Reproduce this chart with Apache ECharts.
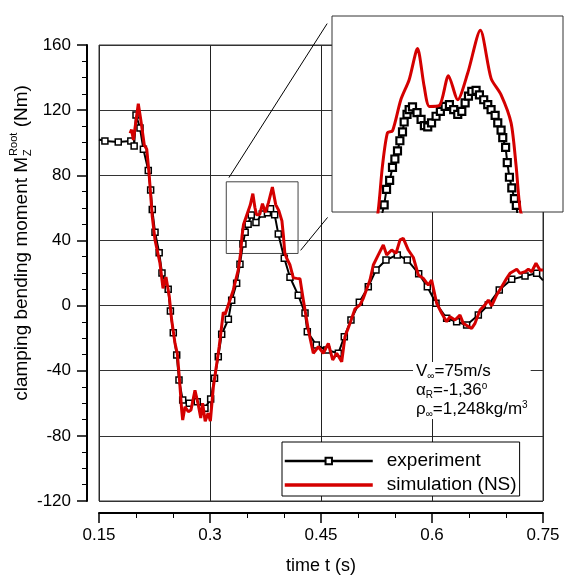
<!DOCTYPE html>
<html><head><meta charset="utf-8">
<script src="https://cdn.jsdelivr.net/npm/echarts@6/dist/echarts.min.js"></script>
<style>html,body{margin:0;padding:0;background:#fff}#c{width:564px;height:583px}</style>
</head><body><div id="c"></div>
<script>
const FONT = '"Liberation Sans", Arial, Helvetica, sans-serif';
const xMin = 0.15, xMax = 0.75, xStep = 0.15;
const yMin = -120, yMax = 160, yStep = 40;
const xTickLabels = ['0.15', '0.3', '0.45', '0.6', '0.75'];
const yTickLabels = ['-120', '-80', '-40', '0', '40', '80', '120', '160'];
const zoomX = [0.322, 0.419];
const zoomY = [32, 76];
const seriesNames = ['experiment', 'simulation (NS)'];

// experiment (main plot, one point per marker)
const expT = [0.150,0.158,0.176,0.193,0.1975,0.200,0.2054,0.210,0.2166,0.2198,0.222,0.2257,0.2313,0.2351,0.2435,0.2465,0.2504,0.255,0.2581,0.2631,0.272,0.2828,0.2932,0.3009,0.3061,0.3112,0.3158,0.3248,0.3293,0.336,0.3405,0.3445,0.3475,0.3515,0.3558,0.3621,0.3706,0.3776,0.3818,0.3874,0.3923,0.4004,0.4081,0.4193,0.4284,0.4315,0.4437,0.4576,0.4734,0.4815,0.4905,0.5018,0.5139,0.5243,0.5378,0.5531,0.5666,0.582,0.5937,0.6054,0.6198,0.6333,0.6468,0.6626,0.6761,0.6909,0.7077,0.7257,0.7414,0.750];
const expM = [102,101,100.5,101,98,117,109,96,83,71,59,45,32.5,20,10,-3.4,-16.7,-30.3,-45.7,-58,-60,-59,-63,-57.3,-44.7,-31.4,-17.6,-8.4,3.2,13.7,25.4,37.8,45,50,55.6,51,56.3,57,59.4,55.7,44,29.1,17.4,6.3,-4.6,-16,-24.2,-27.3,-29.3,-19.1,-8.9,2,11.6,21.8,28,31.1,28,19.6,11.6,1.4,-7.8,-9.9,-11.9,-5.8,0.4,9.6,16.1,18.2,19.8,15.5];

// experiment (zoom window, one point per marker)
const expZoomT = [0.3405,0.3439,0.3449,0.3462,0.3474,0.3484,0.3495,0.3505,0.3516,0.3523,0.3535,0.3544,0.3558,0.3577,0.3594,0.3608,0.3622,0.3638,0.3657,0.3675,0.3695,0.3713,0.3731,0.3748,0.3765,0.3779,0.3793,0.3807,0.3825,0.3839,0.3857,0.3874,0.3888,0.3905,0.3916,0.3930,0.3937,0.3949,0.3956,0.3965,0.3975,0.3986,0.3994,0.4004];
const expZoomM = [25.4,33.6,37.1,39.1,42.0,43.9,45.7,48.0,50.0,52.2,53.9,55.0,55.6,54.3,52.8,51.4,51.1,52.0,53.5,54.6,55.7,56.1,55.0,53.9,54.6,56.5,58.0,59.1,59.3,58.3,57.2,56.1,55.0,53.7,52.0,50.4,48.7,46.5,43.1,39.8,37.4,35.0,33.5,29.1];

// simulation (NS)
const simT = [0.192,0.194,0.1965,0.2031,0.2065,0.2112,0.2145,0.2176,0.222,0.2257,0.2324,0.2365,0.2405,0.245,0.2482,0.2527,0.2558,0.2585,0.2617,0.2631,0.2662,0.2707,0.2743,0.2797,0.2842,0.2875,0.290,0.2935,0.2975,0.3005,0.3045,0.309,0.3125,0.318,0.3203,0.327,0.3315,0.3382,0.3414,0.3432,0.3453,0.3474,0.3509,0.3544,0.3579,0.3607,0.3629,0.3671,0.3709,0.3748,0.379,0.3843,0.3888,0.393,0.3972,0.3993,0.4011,0.4036,0.4081,0.4126,0.4171,0.4216,0.4261,0.4329,0.4396,0.4464,0.4532,0.4599,0.4658,0.4712,0.478,0.4824,0.4892,0.496,0.5027,0.5072,0.5162,0.5207,0.5274,0.5342,0.5388,0.5455,0.5514,0.5568,0.5612,0.568,0.5748,0.5815,0.5883,0.595,0.5995,0.6063,0.6131,0.6198,0.6243,0.6311,0.6378,0.6423,0.649,0.6536,0.6581,0.6649,0.6716,0.6761,0.6806,0.6874,0.6942,0.7009,0.7054,0.7145,0.7189,0.7257,0.7302,0.7347,0.7405,0.7459,0.750];
const simM = [105.8,108,101.7,124,114,98.6,96,81.4,54.6,40.3,26,10.6,17.5,5.5,-8.9,-23.2,-29.3,-43.7,-64.1,-70.3,-62.1,-65.2,-64.1,-52,-61,-69,-60,-71,-66,-71,-50,-36,-25,-4,-5.5,3.4,9.6,21.9,32.3,42.4,49.8,50.2,57.2,61.7,68.7,60.2,55.7,55.9,62.6,57.2,63.2,72.8,62,58.3,52,42.4,32.3,29.1,24.9,17,16.7,16.5,3.4,-15,-29.3,-25.3,-29.3,-23.2,-33.4,-29.3,-34.5,-19.1,-10.9,-2,0.4,4.5,15.7,24.9,31.1,37.2,31.1,34.1,32.1,40.3,41.3,34.1,29.5,18.8,16.7,12.6,15.7,1.4,-4.7,-9.9,-6.8,-8.9,-5.8,-10.9,-12.9,-14,-10.9,-2.7,0.4,3.4,-0.2,6.5,11.6,16.7,19.8,22.3,19.8,20.8,22.3,20.8,26,21.9,21.9];

// end points of the measured curve carry no marker
const markedPairs = (t, m) => t.map((v, i) => {
  const item = {value: [v, m[i]]};
  if (i === 0 || i === t.length - 1) item.symbol = 'none';
  return item;
});
const pairs = (t, m) => t.map((v, i) => [v, m[i]]);
const expData = markedPairs(expT, expM);
const expZoomData = markedPairs(expZoomT, expZoomM);
const simData = pairs(simT, simM);

const BLACK = '#000';
const RED = '#d40000';

const chart = echarts.init(document.getElementById('c'), null, {renderer: 'canvas'});

const option = {
  animation: false,
  backgroundColor: '#fff',
  textStyle: {fontFamily: FONT},
  grid: [
    {left: 99, top: 45, width: 444, height: 456, show: true, borderColor: '#333', borderWidth: 1, backgroundColor: 'transparent', z: 2},
    {left: 332, top: 16, width: 231, height: 196, show: true, borderColor: '#333', borderWidth: 1, backgroundColor: '#fff', z: 6}
  ],
  xAxis: [
    {
      type: 'value', gridIndex: 0, min: xMin, max: xMax, interval: xStep, offset: 12,
      name: 'time t (s)', nameLocation: 'middle', nameGap: 44,
      nameTextStyle: {fontSize: 18, color: '#000', fontFamily: FONT},
      axisLine: {show: true, onZero: false, lineStyle: {color: '#000', width: 2}},
      axisTick: {show: true, inside: false, length: 10, lineStyle: {color: '#000', width: 1.5}},
      minorTick: {show: true, splitNumber: 3, length: 5, lineStyle: {color: '#000', width: 1}},
      axisLabel: {fontSize: 17, color: '#000', margin: 14, fontFamily: FONT,
        formatter: v => xTickLabels[Math.round((v - xMin) / xStep)]},
      splitLine: {show: true, lineStyle: {color: '#222', width: 1}}
    },
    {type: 'value', gridIndex: 1, min: zoomX[0], max: zoomX[1], show: false,
      splitLine: {show: false}, axisLine: {show: false}}
  ],
  yAxis: [
    {
      type: 'value', gridIndex: 0, min: yMin, max: yMax, interval: yStep, offset: 12,
      axisLine: {show: true, onZero: false, lineStyle: {color: '#000', width: 2}},
      axisTick: {show: true, inside: false, length: 10, lineStyle: {color: '#000', width: 1.5}},
      minorTick: {show: true, splitNumber: 4, length: 5, lineStyle: {color: '#000', width: 1}},
      axisLabel: {fontSize: 17, color: '#000', margin: 16, fontFamily: FONT,
        formatter: v => yTickLabels[Math.round((v - yMin) / yStep)]},
      splitLine: {show: true, lineStyle: {color: '#333', width: 1}}
    },
    {type: 'value', gridIndex: 1, min: zoomY[0], max: zoomY[1], show: false,
      splitLine: {show: false}, axisLine: {show: false}}
  ],
  legend: {
    data: [
      {name: seriesNames[0], lineStyle: {width: 2.5, color: BLACK}},
      {name: seriesNames[1], itemStyle: {opacity: 0}, lineStyle: {width: 3.5, color: RED}}
    ],
    orient: 'vertical', left: 282, top: 442,
    itemWidth: 88, itemHeight: 8, itemGap: 4,
    padding: [9, 3, 1, 1],
    backgroundColor: '#fff', borderColor: '#000', borderWidth: 1,
    textStyle: {fontSize: 19, color: '#000', lineHeight: 20, fontFamily: FONT, padding: [0, 0, 0, 9]},
    z: 8
  },
  series: [
    {
      name: seriesNames[0], type: 'line', xAxisIndex: 0, yAxisIndex: 0, data: expData,
      symbol: 'rect', symbolSize: 6, showAllSymbol: true,
      lineStyle: {color: BLACK, width: 2}, itemStyle: {color: '#fff', borderColor: BLACK, borderWidth: 1.5},
      z: 3,
      markArea: {silent: true, itemStyle: {color: 'rgba(0,0,0,0)', borderColor: '#444', borderWidth: 1},
        data: [[{xAxis: zoomX[0], yAxis: zoomY[1]}, {xAxis: zoomX[1], yAxis: zoomY[0]}]]}
    },
    {
      name: seriesNames[1], type: 'line', xAxisIndex: 0, yAxisIndex: 0, data: simData,
      symbol: 'none', lineStyle: {color: RED, width: 3}, itemStyle: {color: RED}, z: 4
    },
    {
      name: seriesNames[0], type: 'line', xAxisIndex: 1, yAxisIndex: 1, data: expZoomData,
      symbol: 'rect', symbolSize: 7, showAllSymbol: true, clip: true,
      lineStyle: {color: BLACK, width: 2}, itemStyle: {color: '#fff', borderColor: BLACK, borderWidth: 2.2},
      z: 8
    },
    {
      name: seriesNames[1], type: 'line', xAxisIndex: 1, yAxisIndex: 1, data: simData, clip: true,
      symbol: 'none', smooth: 0.25, lineStyle: {color: RED, width: 3}, itemStyle: {color: RED}, z: 9
    }
  ]
};
chart.setOption(option);

// ---- decorations: y title, parameter note, zoom connectors ----
function measure(txt, font) {
  const c = document.createElement('canvas').getContext('2d');
  c.font = font; return c.measureText(txt).width;
}
const tFs = 19, sFs = 11;
const tFont = tFs + 'px ' + FONT, sFont = sFs + 'px ' + FONT;
const part1 = 'clamping bending moment M', part3 = ' (Nm)';
const w1 = measure(part1, tFont), wZ = measure('Z', sFont), wR = measure('Root', sFont), w3 = measure(part3, tFont);
const wS = Math.max(wZ, wR) + 1;
const W = w1 + wS + w3;
const x0 = -W / 2;
const txt = (text, x, y, font) => ({type: 'text', x: x, y: y, style: {text: text, font: font, fill: '#000', textAlign: 'left', textVerticalAlign: 'middle'}});

const p1 = chart.convertToPixel({gridIndex: 0}, [zoomX[0], zoomY[1]]);
const p2 = chart.convertToPixel({gridIndex: 0}, [zoomX[1], zoomY[0]]);
const q1 = chart.convertToPixel({gridIndex: 1}, [zoomX[0], zoomY[1]]);
const q2 = chart.convertToPixel({gridIndex: 1}, [zoomX[0], zoomY[0]]);
function seg(a, b, s1, s2) {
  const dx = b[0] - a[0], dy = b[1] - a[1], L = Math.hypot(dx, dy);
  const ux = dx / L, uy = dy / L;
  return {x1: a[0] + ux * s1, y1: a[1] + uy * s1, x2: b[0] - ux * s2, y2: b[1] - uy * s2};
}

chart.setOption({
  graphic: [
    {type: 'group', x: 22, y: 243, rotation: Math.PI / 2, z: 20, children: [
      txt(part1, x0, 0, tFont),
      txt('Z', x0 + w1 + 1, 6, sFont),
      txt('Root', x0 + w1 + 1, -8, sFont),
      txt(part3, x0 + w1 + wS, 0, tFont)
    ]},
    {type: 'text', left: 413, top: 362, z: 20, style: {
      text: '{m|V}{s|\u221e}{m|=75m/s}\n{m|\u03b1}{s|R}{m|=-1,36}{p|o}\n{m|\u03c1}{s|\u221e}{m|=1,248kg/m}{p|3}',
      backgroundColor: '#fff', padding: [0, 3, 0, 3], fill: '#000',
      rich: {
        m: {fontSize: 17, lineHeight: 19, fontFamily: FONT, fill: '#000'},
        s: {fontSize: 10, lineHeight: 6, verticalAlign: 'bottom', fontFamily: FONT, fill: '#000'},
        p: {fontSize: 10, lineHeight: 6, verticalAlign: 'top', fontFamily: FONT, fill: '#000'}
      }
    }},
    {type: 'line', z: 20, shape: seg(p1, q1, 5, 9), style: {stroke: '#000', lineWidth: 1}},
    {type: 'line', z: 20, shape: seg(p2, q2, 4, 7), style: {stroke: '#000', lineWidth: 1}}
  ]
});
</script>
</body></html>
